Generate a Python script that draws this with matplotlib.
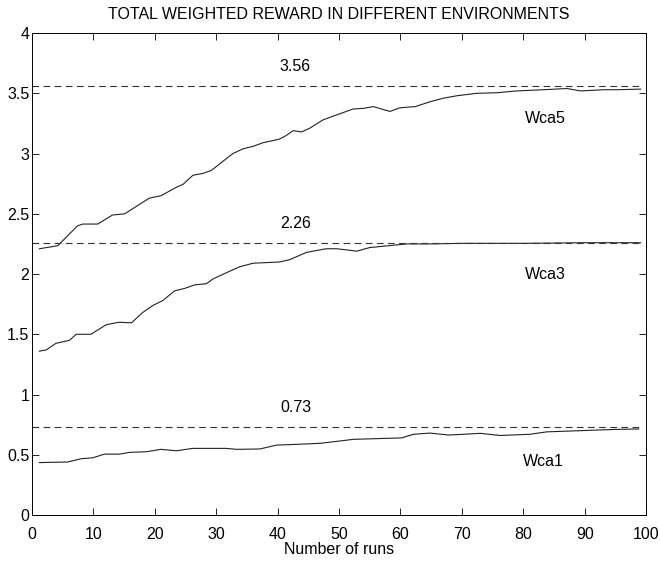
import matplotlib
matplotlib.use("Agg")
import matplotlib.pyplot as plt

plt.rcParams['font.family'] = ['Liberation Sans', 'DejaVu Sans']

# curves (run number, reward)
wca5_x = [1.2, 4.2, 7.4, 8.3, 10.7, 13.1, 15.1, 19.1, 21, 23.5, 24.6, 26.2, 27.8, 29.2,
          32.7, 34.4, 36, 37.6, 40.3, 41.4, 42.5, 43.9, 45.2, 47.4, 50.1, 52.3, 53.9,
          55.6, 56.9, 58.3, 59.9, 62.4, 64.8, 67, 69.2, 72.4, 75.7, 78.9, 83.3, 87.1,
          89.3, 93.1, 95.3, 99.1]
wca5_y = [2.21, 2.235, 2.40, 2.415, 2.415, 2.49, 2.50, 2.63, 2.65, 2.72, 2.745, 2.82,
          2.835, 2.86, 3.00, 3.04, 3.06, 3.09, 3.12, 3.15, 3.19, 3.18, 3.21, 3.28, 3.33,
          3.37, 3.375, 3.39, 3.37, 3.35, 3.38, 3.39, 3.43, 3.46, 3.48, 3.50, 3.505, 3.52,
          3.53, 3.54, 3.52, 3.53, 3.53, 3.535]

wca3_x = [1.2, 2.3, 3.9, 6.1, 7.2, 9.6, 12.1, 14.2, 16.2, 18, 19.7, 21.3, 23.2, 24.8,
          26.5, 28.4, 29.5, 31.6, 33.8, 36, 40.3, 42, 44.7, 47.9, 49.6, 52.9, 55, 61,
          64.8, 70, 80, 90, 99.1]
wca3_y = [1.36, 1.37, 1.425, 1.45, 1.50, 1.50, 1.58, 1.60, 1.595, 1.68, 1.74, 1.78, 1.86,
          1.88, 1.91, 1.92, 1.96, 2.01, 2.06, 2.09, 2.10, 2.12, 2.18, 2.21, 2.21, 2.19,
          2.22, 2.25, 2.25, 2.255, 2.255, 2.26, 2.26]

wca1_x = [1.2, 5.8, 8, 9.9, 11.8, 14.2, 15.9, 18.6, 21, 23.5, 26.2, 31.6, 33.3, 37.1,
          39.8, 44.7, 46.9, 50.1, 52.3, 60.2, 62.1, 64.8, 67.8, 70.3, 73, 76.2, 81.1,
          83.8, 89.3, 94.7, 98.8]
wca1_y = [0.435, 0.44, 0.467, 0.475, 0.505, 0.505, 0.52, 0.525, 0.545, 0.533, 0.553,
          0.553, 0.545, 0.548, 0.58, 0.59, 0.595, 0.614, 0.628, 0.64, 0.67, 0.68, 0.664,
          0.67, 0.678, 0.66, 0.67, 0.69, 0.70, 0.71, 0.714]

limits = [3.56, 2.26, 0.73]
limit_labels = ['3.56', '2.26', '0.73']
curve_names = ['Wca5', 'Wca3', 'Wca1']
name_pos = [(83.6, 3.29), (83.6, 2.0), (83.3, 0.44)]

fig = plt.figure(figsize=(6.6, 5.61), dpi=100)
ax = fig.add_axes([0.0485, 0.082, 0.9305, 0.859])

for xs, ys in [(wca5_x, wca5_y), (wca3_x, wca3_y), (wca1_x, wca1_y)]:
    ax.plot(xs, ys, color='#222222', lw=0.8)

for v, lab in zip(limits, limit_labels):
    ax.plot([0, 99], [v, v], color='#333333', lw=0.8, dashes=(6, 4))
    ax.text(42.9, v + 0.16, lab, ha='center', va='center', fontsize=11.5)

for name, (tx, ty) in zip(curve_names, name_pos):
    ax.text(tx, ty, name, ha='center', va='center', fontsize=11.5)

ax.set_xlim(0, 100)
ax.set_ylim(0, 4)
ax.set_xticks(range(0, 101, 10))
ax.set_yticks([0, 0.5, 1, 1.5, 2, 2.5, 3, 3.5, 4])
ax.set_yticklabels(['0', '0.5', '1', '1.5', '2', '2.5', '3', '3.5', '4'])
ax.tick_params(direction='in', top=True, right=True, length=5, width=0.6,
               labelsize=11.5)
ax.tick_params(axis='x', pad=9)
ax.tick_params(axis='y', pad=2)
for s in ax.spines.values():
    s.set_linewidth(0.7)

ax.set_title('TOTAL WEIGHTED REWARD IN DIFFERENT ENVIRONMENTS', fontsize=11.5, pad=10)
ax.set_xlabel('Number of runs', fontsize=11.5, labelpad=0)

fig.savefig('out.png', dpi=100)
